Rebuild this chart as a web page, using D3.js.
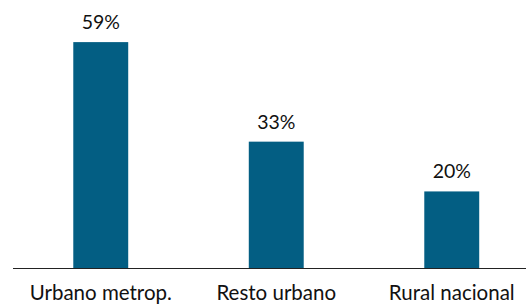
<!DOCTYPE html>
<html>
<head>
<meta charset="utf-8">
<script src="https://cdn.jsdelivr.net/npm/d3@7"></script>
<style>
  body { margin: 0; background: #fff; }
  svg text { font-family: Lato, "Open Sans", sans-serif; fill: #111; }
</style>
</head>
<body>
<div id="chart"></div>
<script>
var categories = ["Urbano metrop.", "Resto urbano", "Rural nacional"];
var values = [59, 33, 20];
var value_labels = ["59%", "33%", "20%"];

var width = 526, height = 305;
var base_y = 268;

var svg = d3.select("#chart").append("svg")
  .attr("width", width)
  .attr("height", height);

// plot area runs past the right edge in the original, so the range does too
var x = d3.scaleBand()
  .domain(categories)
  .range([13, 539.5])
  .paddingInner(0.687)
  .paddingOuter(0.3435);

var y = d3.scaleLinear()
  .domain([0, 70])
  .range([base_y, 0]);

var data = categories.map(function(c, i) {
  return { category: c, value: values[i], label: value_labels[i] };
});

svg.selectAll(".bar")
  .data(data)
  .enter()
  .append("rect")
  .attr("class", "bar")
  .attr("x", function(d) { return x(d.category); })
  .attr("y", function(d) { return y(d.value); })
  .attr("width", x.bandwidth())
  .attr("height", function(d) { return base_y - y(d.value); })
  .attr("fill", "#035e83");

svg.selectAll(".value")
  .data(data)
  .enter()
  .append("text")
  .attr("class", "value")
  .attr("x", function(d) { return x(d.category) + x.bandwidth() / 2; })
  .attr("y", function(d) { return y(d.value) - 13; })
  .attr("text-anchor", "middle")
  .style("font-size", "19.5px")
  .text(function(d) { return d.label; });

// baseline axis
var x_axis = d3.axisBottom(x).tickSize(0);
var g = svg.append("g")
  .attr("transform", "translate(0," + base_y + ")")
  .call(x_axis);
g.select(".domain").remove();
g.append("line")
  .attr("x1", 13).attr("x2", width)
  .attr("y1", 0.5).attr("y2", 0.5)
  .attr("stroke", "#222")
  .attr("stroke-width", 1);
g.selectAll(".tick text")
  .attr("y", 32)
  .attr("dy", null)
  .style("font-size", "20.5px")
  .style("font-family", "Lato, 'Open Sans', sans-serif")
  .attr("fill", "#111");
</script>
</body>
</html>
